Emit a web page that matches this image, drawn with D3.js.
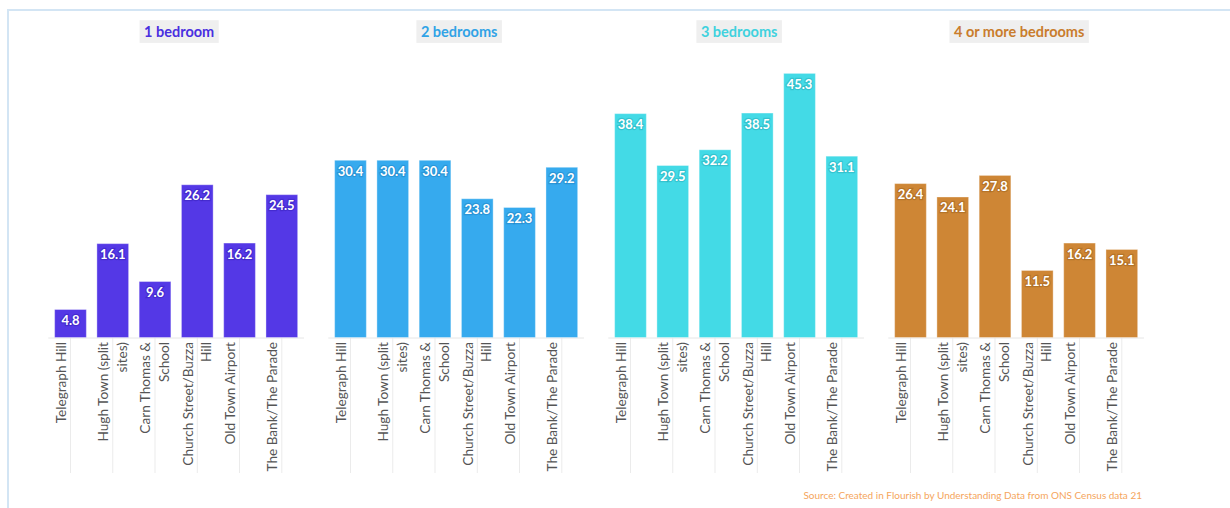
<!DOCTYPE html>
<html>
<head>
<meta charset="utf-8">
<script src="https://cdn.jsdelivr.net/npm/d3@7"></script>
<style>
  html, body { margin: 0; padding: 0; background: #fff; }
  svg { display: block; font-family: "Source Sans Pro", Lato, "Noto Sans", sans-serif; }
</style>
</head>
<body>
<svg id="chart" width="1230" height="508"></svg>
<script>
// ---- data ----
const categories = [
  "Telegraph Hill",
  "Hugh Town (split sites)",
  "Carn Thomas & School",
  "Church Street/Buzza Hill",
  "Old Town Airport",
  "The Bank/The Parade"
];
// tick labels as wrapped in the reference
const tickLabels = [
  ["Telegraph Hill"],
  ["Hugh Town (split", "sites)"],
  ["Carn Thomas &", "School"],
  ["Church Street/Buzza", "Hill"],
  ["Old Town Airport"],
  ["The Bank/The Parade"]
];
const seriesNames = ["1 bedroom", "2 bedrooms", "3 bedrooms", "4 or more bedrooms"];
const oneBedroom   = [4.8, 16.1, 9.6, 26.2, 16.2, 24.5];
const twoBedrooms  = [30.4, 30.4, 30.4, 23.8, 22.3, 29.2];
const threeBedrooms= [38.4, 29.5, 32.2, 38.5, 45.3, 31.1];
const fourBedrooms = [26.4, 24.1, 27.8, 11.5, 16.2, 15.1];
const seriesValues = [oneBedroom, twoBedrooms, threeBedrooms, fourBedrooms];
const sourceText = "Source: Created in Flourish by Understanding Data from ONS Census data 21";

// ---- styling ----
const barColors   = ["#5438e6", "#36aaee", "#43dae6", "#ce8635"];
const titleColors = ["#4a2fe0", "#31a3e6", "#3fd2de", "#c97d2d"];
const haloColors  = ["#2a14a8", "#1572b0", "#1a9aa6", "#8a5212"];

const svg = d3.select("#chart");

// frame lines
svg.append("line").attr("x1", 8).attr("x2", 1230).attr("y1", 10).attr("y2", 10)
  .attr("stroke", "#d3e5f4").attr("stroke-width", 2);
svg.append("line").attr("x1", 8).attr("x2", 8).attr("y1", 9).attr("y2", 508)
  .attr("stroke", "#d3e5f4").attr("stroke-width", 2);

const panelX0 = 48.3, panelStep = 280, panelW = 255.7;
const baseY = 337.5;
const y = d3.scaleLinear().domain([0, 45.3]).range([baseY, 73.4]);

const x = d3.scaleBand().domain(categories).range([0, panelW])
  .paddingInner(0.25).paddingOuter(0.15);

seriesValues.forEach((vals, i) => {
  const g = svg.append("g").attr("transform", `translate(${panelX0 + i * panelStep},0)`);

  // title
  const tg = g.append("g").attr("transform", `translate(${panelW / 2 + 3},31.5)`);
  const tt = tg.append("text").attr("text-anchor", "middle").attr("dy", "0.35em")
    .attr("font-size", 14.5).attr("font-weight", 700).attr("fill", titleColors[i])
    .text(seriesNames[i]);
  const bb = tt.node().getBBox();
  tg.insert("rect", "text").attr("x", bb.x - 4.5).attr("y", -11.3)
    .attr("width", bb.width + 9).attr("height", 22.7).attr("fill", "#efefef");

  // tick lines
  g.selectAll("line.tick").data(categories).join("line").attr("class", "tick")
    .attr("x1", d => x(d) + x.bandwidth() / 2).attr("x2", d => x(d) + x.bandwidth() / 2)
    .attr("y1", baseY).attr("y2", 473)
    .attr("stroke", "#ebebeb").attr("stroke-width", 1);

  // baseline
  g.append("line").attr("x1", 0).attr("x2", panelW).attr("y1", baseY + 0.5).attr("y2", baseY + 0.5)
    .attr("stroke", "#e6e6e6").attr("stroke-width", 1);

  // bars
  g.selectAll("rect.bar").data(vals).join("rect").attr("class", "bar")
    .attr("x", (d, j) => x(categories[j]))
    .attr("width", x.bandwidth())
    .attr("y", d => y(d))
    .attr("height", d => baseY - y(d))
    .attr("fill", barColors[i])
    .attr("stroke", "rgba(255,255,255,0.35)").attr("stroke-width", 1);

  // value labels
  g.selectAll("text.val").data(vals).join("text").attr("class", "val")
    .attr("x", (d, j) => x(categories[j]) + x.bandwidth() / 2)
    .attr("y", d => y(d) + 15.5)
    .attr("text-anchor", "middle")
    .attr("font-size", 13).attr("font-weight", 700)
    .attr("fill", "#fff")
    .attr("stroke", haloColors[i]).attr("stroke-opacity", 0.35).attr("stroke-width", 2.5)
    .attr("paint-order", "stroke")
    .text(d => d.toFixed(1));

  // category labels
  categories.forEach((c, j) => {
    const lg = g.append("g")
      .attr("transform", `translate(${x(c) + x.bandwidth() / 2},342) rotate(-90)`);
    const t = lg.append("text").attr("text-anchor", "end")
      .attr("font-size", 13.6).attr("fill", "#555");
    tickLabels[j].forEach((ln, k) => {
      t.append("tspan").attr("x", 0).attr("y", k === 0 ? -9.5 : 9).attr("dy", "0.35em").text(ln);
    });
  });
});

svg.append("text").attr("x", 1142).attr("y", 499).attr("text-anchor", "end")
  .attr("font-size", 10).attr("fill", "#f5a55c").text(sourceText);
</script>
</body>
</html>
